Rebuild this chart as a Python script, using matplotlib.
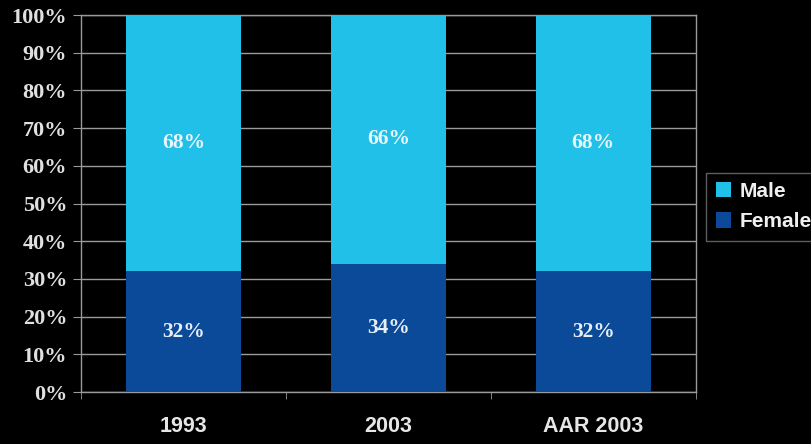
import numpy as np
import matplotlib.pyplot as plt

categories = ['1993', '2003', 'AAR 2003']
female = [32, 34, 32]
male = [68, 66, 68]

male_color = '#20C0E8'
female_color = '#0A4A98'
grid_color = '#9a9a9a'

fig = plt.figure(figsize=(8.12, 4.44), dpi=100, facecolor='black')
ax = fig.add_axes([0.0998, 0.117, 0.757, 0.849], facecolor='black')

x = np.arange(len(categories))
w = 0.56
b1 = ax.bar(x, female, w, color=female_color, label='Female', zorder=3)
b2 = ax.bar(x, male, w, bottom=female, color=male_color, label='Male', zorder=3)

for i in range(len(categories)):
    ax.text(x[i], female[i] / 2, f'{female[i]}%', ha='center', va='center',
            color='#e8eef5', fontsize=15.5, fontweight='bold', family='Liberation Serif', zorder=4)
    ax.text(x[i], female[i] + male[i] / 2, f'{male[i]}%', ha='center', va='center',
            color='#e8f6fb', fontsize=15.5, fontweight='bold', family='Liberation Serif', zorder=4)

ax.set_xlim(-0.5, len(categories) - 0.5)
ax.set_ylim(0, 100)
ax.set_yticks(range(0, 101, 10))
ax.set_yticklabels([f'{v}%' for v in range(0, 101, 10)], family='Liberation Serif',
                   fontweight='bold', fontsize=16, color='#e0e0e0')
ax.set_xticks(x)
ax.set_xticklabels(categories, family='Liberation Sans', fontweight='bold',
                   fontsize=15.5, color='#e6e6e6')
ax.set_xticks(np.arange(-0.5, len(categories)), minor=True)
ax.tick_params(axis='x', which='major', length=0, pad=17)
ax.tick_params(axis='x', which='minor', length=5, color=grid_color, direction='out')
ax.tick_params(axis='y', length=6, color=grid_color, pad=4)

ax.grid(axis='y', color=grid_color, linewidth=1, zorder=1)
for s in ax.spines.values():
    s.set_color(grid_color)
    s.set_linewidth(1)

leg = ax.legend(handles=[b2, b1], loc='upper left', bbox_to_anchor=(1.0, 0.61),
                frameon=True, facecolor='black', edgecolor='#777777',
                prop={'family': 'Liberation Sans', 'weight': 'bold', 'size': 15},
                handlelength=0.75, handleheight=0.75, handletextpad=0.4,
                borderpad=0.45, labelspacing=0.55, fancybox=False)
for t in leg.get_texts():
    t.set_color('#f0f0f0')

fig.savefig('out.png', dpi=100, facecolor='black')
